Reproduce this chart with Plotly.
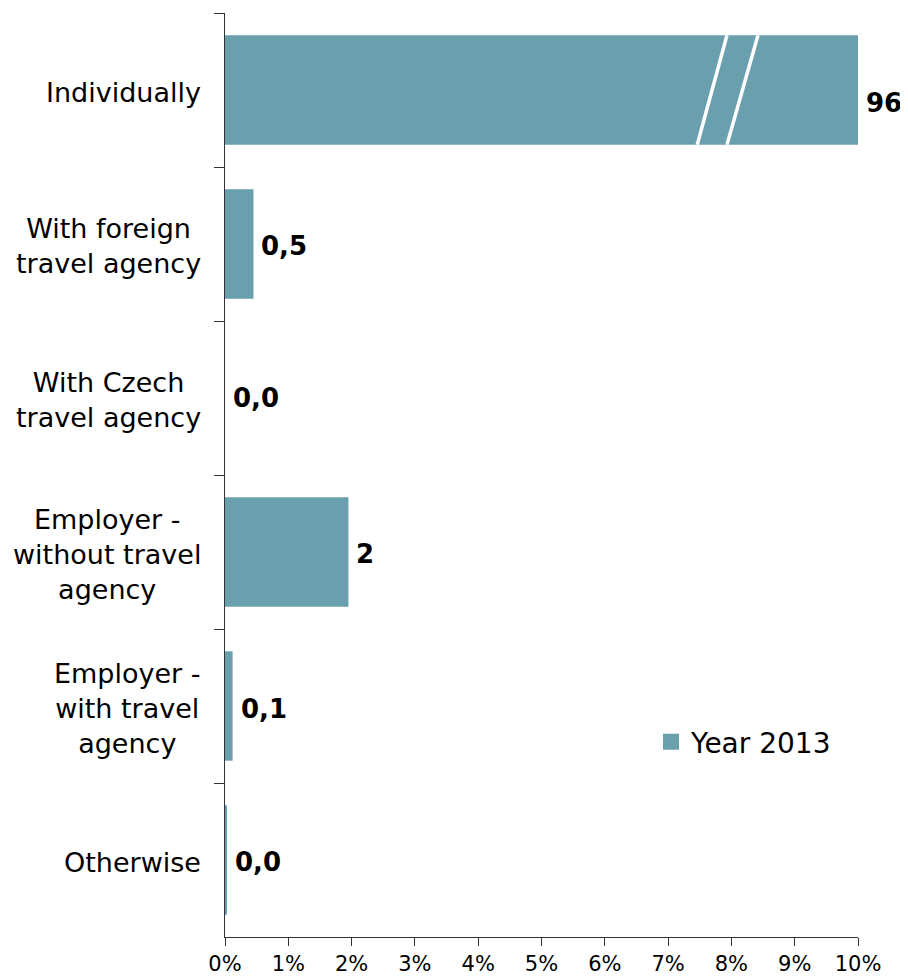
import plotly.graph_objects as go

categories = ["Individually", "With foreign<br>travel agency", "With Czech<br>travel agency",
              "Employer -<br>without travel<br>agency", "Employer -<br>with travel<br>agency", "Otherwise"]
values = [96, 0.45, 0.0, 1.95, 0.12, 0.03]
value_labels = ["96", "0,5", "0,0", "2", "0,1", "0,0"]
series_name = "Year 2013"
x_ticks = [0, 1, 2, 3, 4, 5, 6, 7, 8, 9, 10]

XMAX = 10
COLOR = "#6A9FAD"
FONT = "DejaVu Sans"
label_yshift = [-13, -2, 0, -2, -3, -2]  # styling only

fig = go.Figure()
fig.add_trace(go.Bar(
    y=categories, x=values, orientation="h", width=0.71,
    marker=dict(color=COLOR, line=dict(width=0)),
    name=series_name, showlegend=False, legendgroup="s",
))
# legend entry with a larger square key
fig.add_trace(go.Scatter(
    x=[None], y=[None], mode="markers", name=series_name, legendgroup="s",
    marker=dict(symbol="square", size=17, color=COLOR), showlegend=True,
))

# value labels
for c, v, t, ys in zip(categories, values, value_labels, label_yshift):
    fig.add_annotation(x=min(v, XMAX), xref="x", y=c, yref="y", text="<b>" + t + "</b>",
                       showarrow=False, xanchor="left", yanchor="middle", xshift=6, yshift=ys,
                       font=dict(family=FONT, size=26, color="black"))

# axis-break marks on the clipped bar
for x0, x1 in [(7.46, 7.93), (7.93, 8.42)]:
    fig.add_shape(type="line", xref="x", yref="y", x0=x0, y0=0.355, x1=x1, y1=-0.355,
                  line=dict(color="white", width=3.5))

# category labels
for c in categories:
    fig.add_annotation(x=-0.035, xref="paper", y=c, yref="y", text=c, showarrow=False,
                       xanchor="right", yanchor="middle", align="center", yshift=-2,
                       font=dict(family=FONT, size=27, color="black"))

fig.update_layout(
    width=908, height=980,
    margin=dict(l=217, r=58, t=5, b=51),
    plot_bgcolor="white", paper_bgcolor="white",
    font=dict(family=FONT, color="black"),
    xaxis=dict(range=[0, XMAX], tickvals=x_ticks, ticktext=[f"{v}%" for v in x_ticks],
               showgrid=False, zeroline=False, showline=True, linecolor="#333", linewidth=1,
               ticks="outside", ticklen=8, tickcolor="#333",
               tickfont=dict(family=FONT, size=21, color="black")),
    yaxis=dict(type="category", categoryorder="array", categoryarray=categories,
               autorange="reversed", showticklabels=False, tickson="boundaries",
               showgrid=False, zeroline=False, showline=True, linecolor="#333", linewidth=1,
               ticks="outside", ticklen=10, tickcolor="#333"),
    legend=dict(x=0.673, y=0.211, xanchor="left", yanchor="middle",
                font=dict(family=FONT, size=28, color="black"), bgcolor="rgba(0,0,0,0)",
                itemwidth=30),
    showlegend=True,
)

fig.write_html("out.html")
